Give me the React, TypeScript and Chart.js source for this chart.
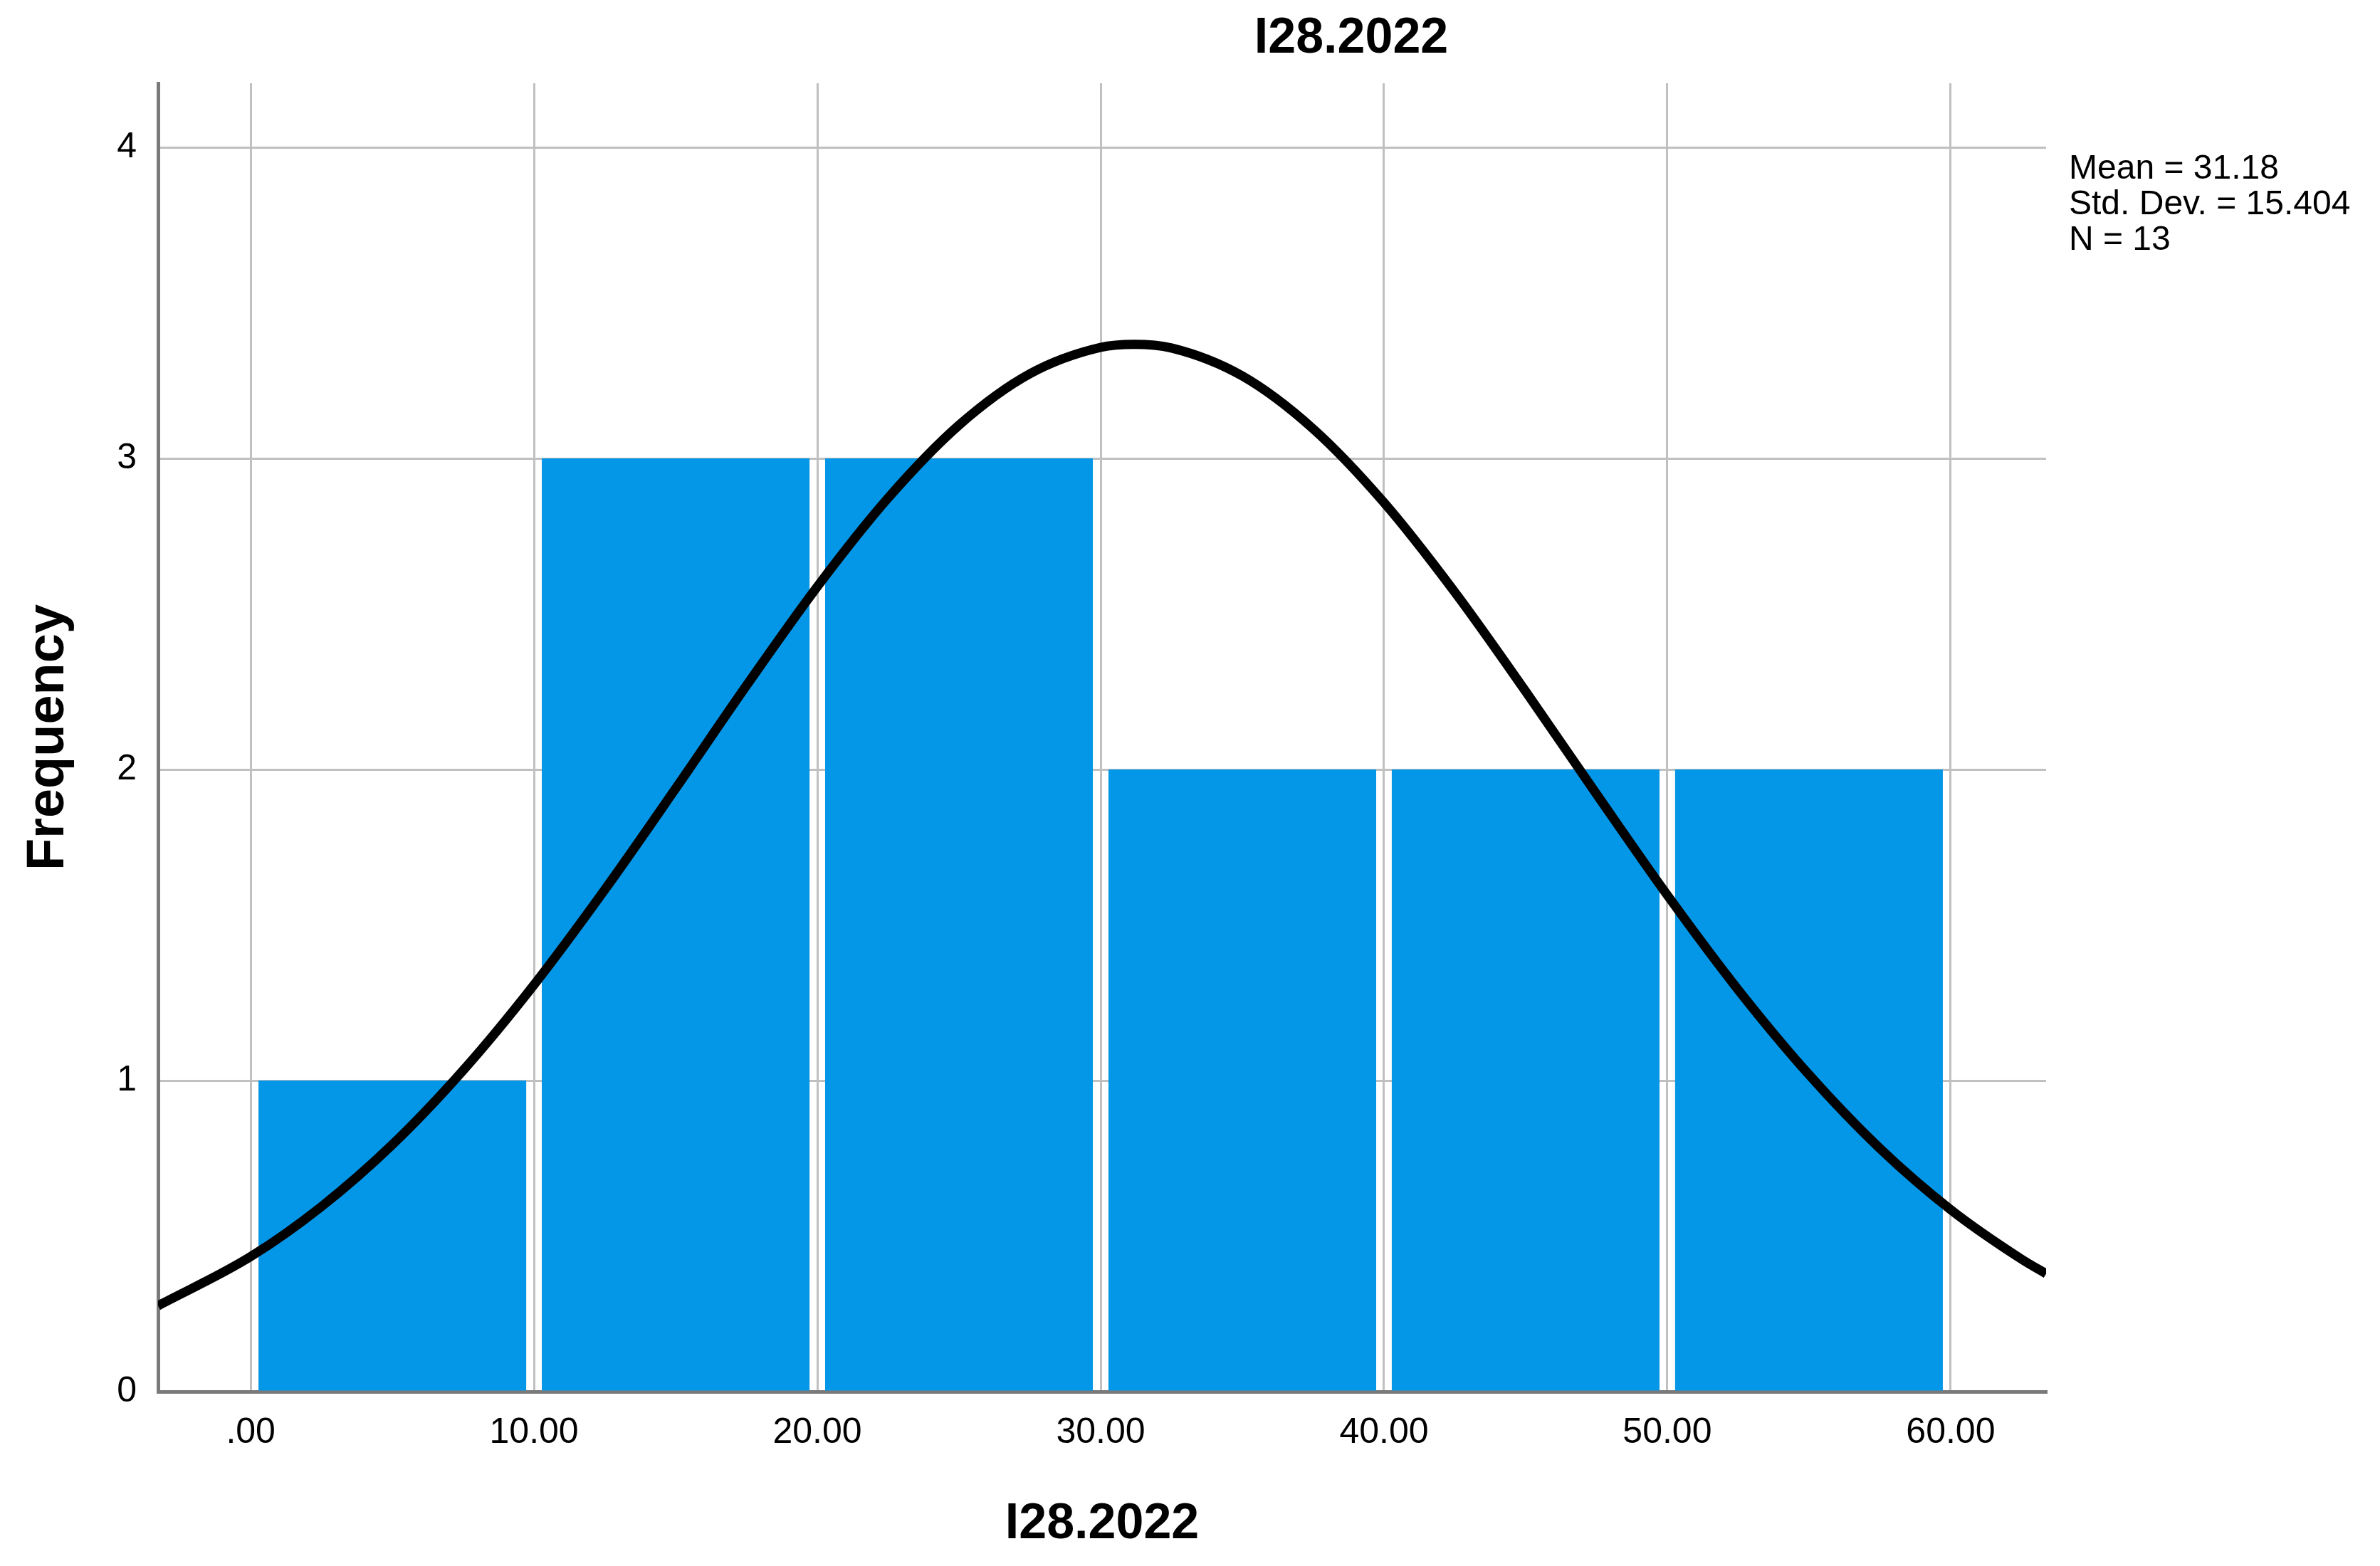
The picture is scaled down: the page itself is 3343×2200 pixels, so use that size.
import React, { useEffect, useRef } from "react";
import { Chart, registerables } from "chart.js";

Chart.register(...registerables);

// ---- Data ----
const chartTitle = "I28.2022";
const xAxisTitle = "I28.2022";
const yAxisTitle = "Frequency";

const binCenters = [5, 15, 25, 35, 45, 55];
const frequencies = [1, 3, 3, 2, 2, 2];

const xTickValues = [0, 10, 20, 30, 40, 50, 60];
const xTickLabels = [".00", "10.00", "20.00", "30.00", "40.00", "50.00", "60.00"];
const yTickValues = [0, 1, 2, 3, 4];
const yTickLabels = ["0", "1", "2", "3", "4"];

// normal curve, points
const curveX = [-3.27, 0, 2.5, 5, 7.5, 10, 12.5, 15, 17.5, 20, 22.5, 25, 27.5, 30, 31.18, 32.5, 35, 37.5, 40, 42.5, 45, 47.5, 50, 52.5, 55, 57.5, 60, 62.5, 63.37];
const curveY = [0.276, 0.434, 0.595, 0.794, 1.033, 1.308, 1.614, 1.939, 2.27, 2.588, 2.873, 3.107, 3.272, 3.357, 3.367, 3.355, 3.265, 3.095, 2.858, 2.57, 2.251, 1.921, 1.596, 1.292, 1.019, 0.782, 0.585, 0.426, 0.379];

const statsLines = ["Mean = 31.18", "Std. Dev. = 15.404", "N = 13"];

const xMin = -3.27;
const xMax = 63.37;
const yMin = 0;
const yMax = 4.206;

const FONT = '"Liberation Sans", Arial, Helvetica, sans-serif';

const overlayPlugin = {
  id: "overlayText",
  afterDraw(chart: any) {
    const { ctx, chartArea } = chart;
    ctx.save();
    ctx.fillStyle = "#000";
    ctx.textBaseline = "middle";
    ctx.textAlign = "center";
    ctx.font = `bold 70px ${FONT}`;
    ctx.fillText(chartTitle, chartArea.left + 1676, 55);
    ctx.textAlign = "left";
    ctx.font = `48px ${FONT}`;
    statsLines.forEach((t, i) => {
      ctx.fillText(t, chartArea.right + 32, 238 + i * 50);
    });
    ctx.restore();
  },
};

export default function App() {
  const canvasRef = useRef<HTMLCanvasElement | null>(null);

  useEffect(() => {
    const canvas = canvasRef.current;
    if (!canvas) return;
    const chart = new Chart(canvas, {
      type: "bar",
      data: {
        datasets: [
          {
            type: "line",
            label: "Normal",
            data: curveX.map((x, i) => ({ x, y: curveY[i] })),
            borderColor: "#000000",
            borderWidth: 13,
            pointRadius: 0,
            fill: false,
            cubicInterpolationMode: "monotone",
            order: 0,
          } as any,
          {
            type: "bar",
            label: "Frequency",
            data: binCenters.map((x, i) => ({ x, y: frequencies[i] })),
            backgroundColor: "#0597E7",
            borderWidth: 0,
            barPercentage: 1,
            categoryPercentage: 0.945,
            order: 1,
          } as any,
        ],
      },
      options: {
        animation: false,
        responsive: false,
        devicePixelRatio: 1,
        layout: { padding: { top: 117, right: 469, left: 0, bottom: 0 } },
        plugins: {
          legend: { display: false },
          tooltip: { enabled: false },
          title: { display: false },
        },
        scales: {
          x: {
            type: "linear",
            min: xMin,
            max: xMax,
            offset: false,
            afterBuildTicks: (s: any) => {
              s.ticks = xTickValues.map((v) => ({ value: v }));
            },
            afterFit: (s: any) => {
              s.height = 245;
            },
            ticks: {
              autoSkip: false,
              maxRotation: 0,
              padding: 28,
              color: "#000",
              font: { family: FONT, size: 50 },
              callback: (_v: any, i: number) => xTickLabels[i],
            },
            grid: { color: "#C0C0C0", lineWidth: 3, drawTicks: false, offset: false },
            border: { display: true, color: "#7A7A7A", width: 5 },
            title: {
              display: true,
              text: xAxisTitle,
              color: "#000",
              font: { family: FONT, size: 70, weight: "bold" },
              padding: { top: 0, bottom: 16 },
            },
          },
          y: {
            type: "linear",
            min: yMin,
            max: yMax,
            afterBuildTicks: (s: any) => {
              s.ticks = yTickValues.map((v) => ({ value: v }));
            },
            afterFit: (s: any) => {
              s.width = 222;
            },
            ticks: {
              padding: 30,
              color: "#000",
              font: { family: FONT, size: 50 },
              callback: (_v: any, i: number) => yTickLabels[i],
            },
            grid: { color: "#C0C0C0", lineWidth: 3, drawTicks: false },
            border: { display: true, color: "#7A7A7A", width: 5 },
            title: {
              display: true,
              text: yAxisTitle,
              color: "#000",
              font: { family: FONT, size: 74, weight: "bold" },
              padding: { top: 24, bottom: 0 },
            },
          },
        },
      } as any,
      plugins: [overlayPlugin],
    });
    return () => chart.destroy();
  }, []);

  return (
    <div style={{ position: "absolute", left: 0, top: 0, width: 3343, height: 2200, background: "#fff" }}>
      <canvas ref={canvasRef} width={3343} height={2200} style={{ display: "block" }} />
    </div>
  );
}
